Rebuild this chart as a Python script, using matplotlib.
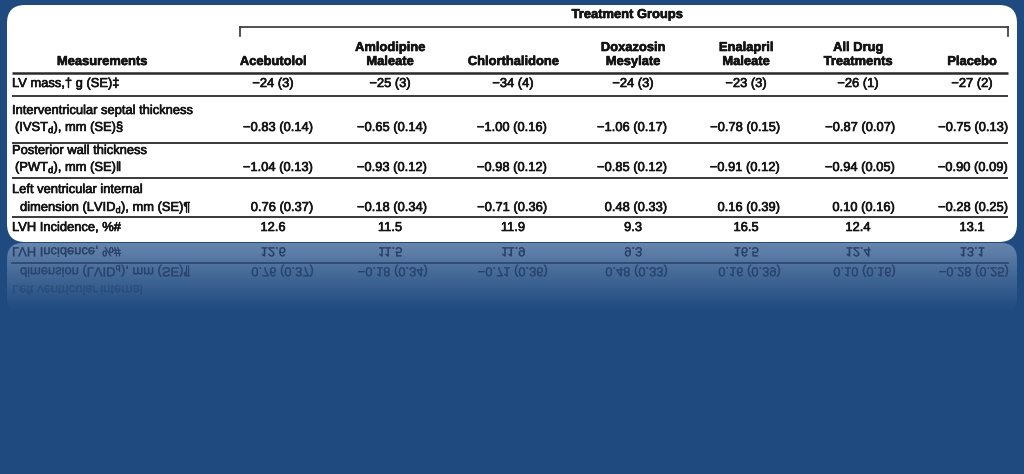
import numpy as np
import matplotlib
matplotlib.use("Agg")
import matplotlib.pyplot as plt
import matplotlib.patheffects as pe
from matplotlib.patches import FancyBboxPatch, PathPatch
from matplotlib.textpath import TextPath
from matplotlib.font_manager import FontProperties
from matplotlib.transforms import Affine2D

plt.rcParams['font.family'] = ['Liberation Sans', 'DejaVu Sans']
plt.rcParams['mathtext.fontset'] = 'custom'
plt.rcParams['mathtext.rm'] = 'Liberation Sans'
plt.rcParams['mathtext.it'] = 'Liberation Sans:italic'
plt.rcParams['mathtext.bf'] = 'Liberation Sans:bold'

# ---------------- data ----------------
group_title = "Treatment Groups"
stub_header = "Measurements"
groups = ["Acebutolol", "Amlodipine\nMaleate", "Chlorthalidone", "Doxazosin\nMesylate",
          "Enalapril\nMaleate", "All Drug\nTreatments", "Placebo"]

lv_mass_mean = [-24, -25, -34, -24, -23, -26, -27]
lv_mass_se = [3, 3, 4, 3, 3, 1, 2]
ivst_mean = [-0.83, -0.65, -1.00, -1.06, -0.78, -0.87, -0.75]
ivst_se = [0.14, 0.14, 0.16, 0.17, 0.15, 0.07, 0.13]
pwt_mean = [-1.04, -0.93, -0.98, -0.85, -0.91, -0.94, -0.90]
pwt_se = [0.13, 0.12, 0.12, 0.12, 0.12, 0.05, 0.09]
lvid_mean = [0.76, -0.18, -0.71, 0.48, 0.16, 0.10, -0.28]
lvid_se = [0.37, 0.34, 0.36, 0.33, 0.39, 0.16, 0.25]
lvh_incidence = [12.6, 11.5, 11.9, 9.3, 16.5, 12.4, 13.1]

row_labels = [
    ["LV mass,\u2020 g (SE)\u2021"],
    ["Interventricular septal thickness", "(IVST$_\\mathrm{d}$), mm (SE)\u00a7"],
    ["Posterior wall thickness", "(PWT$_\\mathrm{d}$), mm (SE)\u2016"],
    ["Left ventricular internal", "dimension (LVID$_\\mathrm{d}$), mm (SE)\u00b6"],
    ["LVH Incidence, %#"],
]


def fmt(v, dec):
    s = f"{abs(v):.{dec}f}"
    return ("\u2212" + s) if v < 0 else s


lv_txt = [f"{fmt(m, 0)} ({s})" for m, s in zip(lv_mass_mean, lv_mass_se)]
ivst_txt = [f"{fmt(m, 2)} ({s:.2f})" for m, s in zip(ivst_mean, ivst_se)]
pwt_txt = [f"{fmt(m, 2)} ({s:.2f})" for m, s in zip(pwt_mean, pwt_se)]
lvid_txt = [f"{fmt(m, 2)} ({s:.2f})" for m, s in zip(lvid_mean, lvid_se)]
lvh_txt = [f"{v:.1f}" for v in lvh_incidence]

# ---------------- layout (pixel space) ----------------
W, H = 1024, 474
BG = "#1f4a7f"
TXT = "#141414"
FS = 9.3
THICK = [pe.withStroke(linewidth=0.45, foreground=TXT)]
fig = plt.figure(figsize=(W / 100, H / 100), dpi=100)
fig.patch.set_facecolor(BG)
ax = fig.add_axes([0, 0, 1, 1])
ax.set_facecolor(BG)
ax.axis("off")

box_l, box_r, box_t, box_b = 7, 1017, 5, 242
mirror = 240.0

# reflection panel (gradient)
grad_h = 70
alpha = np.linspace(0.40, 0.0, 200) ** 1.1
img = np.ones((200, 2, 4))
img[:, :, 0] = 0.90
img[:, :, 1] = 0.94
img[:, :, 2] = 1.0
img[:, :, 3] = alpha[:, None]
refl_patch = FancyBboxPatch((box_l, box_b + 1), box_r - box_l, grad_h,
                            boxstyle="round,pad=0,rounding_size=16",
                            facecolor="none", edgecolor="none", transform=ax.transData)
ax.add_patch(refl_patch)
im = ax.imshow(img, extent=(box_l, box_r, box_b + 1 + grad_h, box_b + 1), aspect="auto",
               interpolation="bilinear", zorder=1)
im.set_clip_path(refl_patch)

# white rounded box
box = FancyBboxPatch((box_l, box_t), box_r - box_l, box_b - box_t,
                     boxstyle="round,pad=0,rounding_size=18",
                     facecolor="white", edgecolor="none", zorder=2)
ax.add_patch(box)

col_center = [273, 390, 513, 633, 746, 858, 972]
col_right = [313, 427, 547, 667, 780, 895, 1008]
label_x = 12


def put(x, y, s, ha="left", bold=False):
    ax.text(x, y, s, ha=ha, va="center", fontsize=FS, color=TXT, zorder=3,
            fontweight="bold" if bold else "normal", path_effects=THICK)


# header
put(627, 15, group_title, "center", True)
ax.plot([240, 1008], [27, 27], color="#333333", lw=1.2, zorder=3)
ax.plot([240, 240], [27, 36], color="#333333", lw=1.2, zorder=3)
ax.plot([1008, 1008], [27, 36], color="#333333", lw=1.2, zorder=3)
put(102, 62, stub_header, "center", True)
for xc, g in zip(col_center, groups):
    lines = g.split("\n")
    ys = [62] if len(lines) == 1 else [48, 62]
    for yy, ln in zip(ys, lines):
        put(xc, yy, ln, "center", True)

# rules
rules = [(73, 1.8), (96, 1.3), (143, 1.3), (178, 1.3), (217, 1.3)]
for y, lw in rules:
    ax.plot([label_x, 1008], [y, y], color="#2a2a2a", lw=lw, zorder=3, solid_capstyle="butt")

# body rows: (label lines y, label indent, value y, values, align)
rows = [
    ([84], [0], 84, lv_txt, "center"),
    ([111, 128], [0, 3], 128, ivst_txt, "right"),
    ([151, 168], [0, 3], 168, pwt_txt, "right"),
    ([190, 208], [0, 8], 208, lvid_txt, "right"),
    ([228], [0], 228, lvh_txt, "center"),
]
for (lys, ind, vy, vals, al), labs in zip(rows, row_labels):
    for yy, dx, lab in zip(lys, ind, labs):
        put(label_x + dx, yy, lab)
    for i, v in enumerate(vals):
        x = col_center[i] if al == "center" else col_right[i]
        put(x, vy, v, al)

# ---------------- reflection (mirrored decorative glyph outlines) ----------------
fp = FontProperties(family="Liberation Sans")
size_px = FS * 100 / 72
REF = "#0c1f44"


def mirrored(s, x, y_center, ha, a):
    tp = TextPath((0, 0), s, size=size_px, prop=fp)
    ext = tp.get_extents()
    w = ext.x1
    if ha == "right":
        x0 = x - w
    elif ha == "center":
        x0 = x - w / 2
    else:
        x0 = x
    baseline = y_center + 0.36 * size_px
    yb = 2 * mirror - baseline
    tr = Affine2D().translate(x0, yb)
    patch = PathPatch(tr.transform_path(tp), facecolor=REF, edgecolor=REF, lw=0.3,
                      alpha=a, zorder=2.5)
    ax.add_patch(patch)


ref_rows = [
    (row_labels[4][0], 0, 228, lvh_txt, "center", 0.6),
    (row_labels[3][1], 8, 208, lvid_txt, "right", 0.45),
    (row_labels[3][0], 0, 190, None, None, 0.18),
]
for lab, dx, y, vals, al, a in ref_rows:
    mirrored(lab, label_x + dx, y, "left", a)
    if vals is not None:
        for i, v in enumerate(vals):
            x = col_center[i] if al == "center" else col_right[i]
            mirrored(v, x, y, al, a)
ry = 2 * mirror - 217
ax.plot([label_x, 1008], [ry, ry], color=REF, lw=1.3, alpha=0.5, zorder=2.5)

ax.set_xlim(0, W)
ax.set_ylim(H, 0)
fig.savefig("out.png", dpi=100, facecolor=BG)
